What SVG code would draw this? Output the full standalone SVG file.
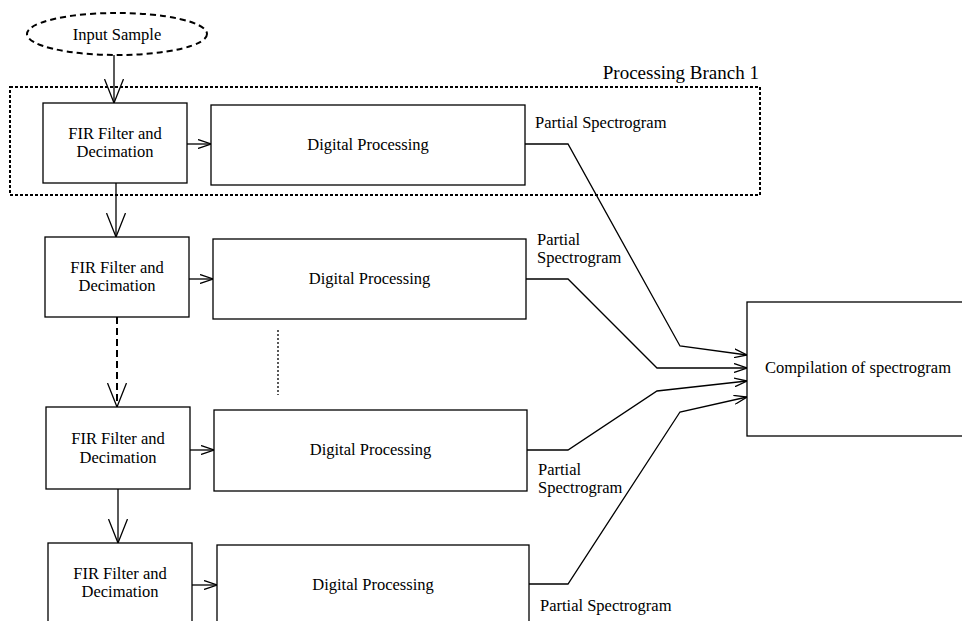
<svg xmlns="http://www.w3.org/2000/svg" width="962" height="621" viewBox="0 0 962 621" font-family="'Liberation Serif', 'Times New Roman', Times, serif">
<style>
  .box { fill: #fff; stroke: #000; stroke-width: 1.3; }
  .t { font-family: 'Liberation Serif', 'Times New Roman', Times, serif; font-size: 16.5px; fill: #000; }
  .c { text-anchor: middle; }
  .ln { fill: none; stroke: #000; stroke-width: 1.3; }
  .dash { stroke-dasharray: 7,4; stroke-width: 2; }
  .mk { fill: none; stroke: #000; stroke-width: 1.3; }
</style>
<defs>
  <marker id="big" viewBox="0 0 24 20" refX="24" refY="10" markerWidth="24" markerHeight="20" markerUnits="userSpaceOnUse" orient="auto">
    <path class="mk" d="M0,0.5 L24,10 L0,19.5"/>
  </marker>
  <marker id="small" viewBox="0 0 13 10" refX="13" refY="5" markerWidth="13" markerHeight="10" markerUnits="userSpaceOnUse" orient="auto">
    <path class="mk" d="M0,0.5 L13,5 L0,9.5"/>
  </marker>
</defs>
<rect width="962" height="621" fill="#fff"/>

<g id="branch1">
  <rect x="10" y="87" width="750" height="108" fill="none" stroke="#000" stroke-width="2" stroke-dasharray="3,2"/>
  <text class="t" x="759" y="79" text-anchor="end" style="font-size:19px">Processing Branch 1</text>
</g>

<g id="input">
  <ellipse cx="117" cy="34" rx="90" ry="21" fill="#fff" stroke="#000" stroke-width="2" stroke-dasharray="6,4"/>
  <text class="t c" x="117" y="40">Input Sample</text>
</g>

<g id="connectors">
  <path class="ln" d="M114,55 L114,103" marker-end="url(#big)"/>
  <path class="ln" d="M116,183 L116,237" marker-end="url(#big)"/>
  <path class="ln dash" d="M117,317 L117,407" marker-end="url(#big)"/>
  <path class="ln" d="M118,489 L118,543" marker-end="url(#big)"/>
  <path class="ln" d="M187,144 L211,144" marker-end="url(#small)"/>
  <path class="ln" d="M189,279 L213,279" marker-end="url(#small)"/>
  <path class="ln" d="M190,450 L214,450" marker-end="url(#small)"/>
  <path class="ln" d="M192,585 L217,585" marker-end="url(#small)"/>
  <path class="ln" d="M525,144 L568,144 L680,346 L747,355" marker-end="url(#small)"/>
  <path class="ln" d="M526,279 L568,279 L657,368 L747,368" marker-end="url(#small)"/>
  <path class="ln" d="M527,450 L568,450 L657,391 L747,381" marker-end="url(#small)"/>
  <path class="ln" d="M529,584 L568,584 L680,412 L747,397" marker-end="url(#small)"/>
  <path class="ln" d="M278,330 L278,395" stroke-width="2" stroke-dasharray="2,2"/>
  <text class="t" x="535" y="128">Partial Spectrogram</text>
  <text class="t" x="537" y="245">Partial</text>
  <text class="t" x="537" y="263">Spectrogram</text>
  <text class="t" x="538" y="475">Partial</text>
  <text class="t" x="538" y="493">Spectrogram</text>
  <text class="t" x="540" y="611">Partial Spectrogram</text>
</g>

<g id="fir1">
  <rect class="box" x="43" y="103" width="144" height="80"/>
  <text class="t c" x="115" y="139">FIR Filter and</text>
  <text class="t c" x="115" y="157">Decimation</text>
</g>
<g id="dp1">
  <rect class="box" x="211" y="105" width="314" height="80"/>
  <text class="t c" x="368" y="150">Digital Processing</text>
</g>

<g id="fir2">
  <rect class="box" x="45" y="237" width="144" height="80"/>
  <text class="t c" x="117" y="273">FIR Filter and</text>
  <text class="t c" x="117" y="291">Decimation</text>
</g>
<g id="dp2">
  <rect class="box" x="213" y="239" width="313" height="80"/>
  <text class="t c" x="369.5" y="284">Digital Processing</text>
</g>

<g id="fir3">
  <rect class="box" x="46" y="407" width="144" height="82"/>
  <text class="t c" x="118" y="444">FIR Filter and</text>
  <text class="t c" x="118" y="463">Decimation</text>
</g>
<g id="dp3">
  <rect class="box" x="214" y="410" width="313" height="81"/>
  <text class="t c" x="370.5" y="455">Digital Processing</text>
</g>

<g id="fir4">
  <rect class="box" x="48" y="543" width="144" height="90"/>
  <text class="t c" x="120" y="579">FIR Filter and</text>
  <text class="t c" x="120" y="597">Decimation</text>
</g>
<g id="dp4">
  <rect class="box" x="217" y="545" width="312" height="90"/>
  <text class="t c" x="373" y="590">Digital Processing</text>
</g>

<g id="compilation">
  <rect class="box" x="747" y="302" width="230" height="134"/>
  <text class="t c" x="858" y="373">Compilation of spectrogram</text>
</g>
</svg>
